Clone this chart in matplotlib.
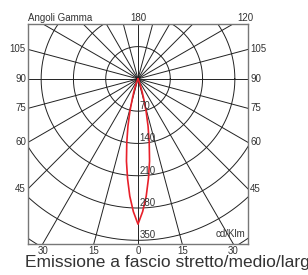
import numpy as np
import matplotlib
matplotlib.use("Agg")
import matplotlib.pyplot as plt

# polar photometric curve, cd/klm against gamma angle (deg); beam is symmetric
gamma_deg = [0, 2, 4, 6, 8, 10, 12, 14, 16, 18, 20, 22, 24]
intensity = [315, 288, 255, 217, 180, 140, 105, 73, 45, 28, 15, 6, 0]

ring_values = [70, 140, 210, 280, 350, 420, 490]
ring_labels = ["70", "140", "210", "280", "350"]
side_angles = [105, 90, 75, 60, 45]
bottom_angles = [-30, -15, 0, 15, 30]
top_labels = ["180", "120"]

XMAX, YTOP, YBOT = 238, 119, -358
FONT = ["Liberation Sans", "DejaVu Sans"]
TXT = "#333333"

fig = plt.figure(figsize=(3.08, 2.75), dpi=100)
ax = fig.add_axes([28 / 308, 31 / 275, 220 / 308, 220 / 275])
ax.set_xlim(-XMAX, XMAX)
ax.set_ylim(YBOT, YTOP)
ax.set_aspect("equal", adjustable="box")
ax.set_xticks([])
ax.set_yticks([])
for sp in ax.spines.values():
    sp.set_color("#777777")
    sp.set_linewidth(1.0)

# grid: rings and spokes every 15 deg
t = np.linspace(0, 2 * np.pi, 400)
for r in ring_values:
    ax.plot(r * np.cos(t), r * np.sin(t), color="#222222", lw=0.7, zorder=1)
for g in range(0, 180, 15):
    a = np.radians(g)
    L = 600
    ax.plot([-L * np.sin(a), L * np.sin(a)], [L * np.cos(a), -L * np.cos(a)],
            color="#222222", lw=0.7, zorder=1)

# intensity curve
g_all = np.radians(np.r_[-np.array(gamma_deg[::-1]), gamma_deg[1:]])
i_all = np.r_[intensity[::-1], intensity[1:]]
ax.plot(i_all * np.sin(g_all), -i_all * np.cos(g_all), color="#e8202a", lw=1.2, zorder=3)

# ring labels along the 0 deg axis
for r, lab in zip(ring_values, ring_labels):
    ax.text(3, -r, lab, ha="left", va="bottom", fontsize=7, color=TXT,
            family=FONT, zorder=4)

# side gamma labels
for g in side_angles:
    a = np.radians(g)
    y = -XMAX * np.cos(a) / np.sin(a)
    ax.text(-XMAX - 5, y, str(g), ha="right", va="center", fontsize=7, color=TXT,
            family=FONT, clip_on=False)
    ax.text(XMAX + 5, y, str(g), ha="left", va="center", fontsize=7, color=TXT,
            family=FONT, clip_on=False)

# bottom gamma labels
for g in bottom_angles:
    x = -YBOT * np.tan(np.radians(g))
    ax.text(x, YBOT - 4, str(abs(g)), ha="center", va="top", fontsize=7, color=TXT,
            family=FONT, clip_on=False)

# top labels
ax.text(0, YTOP + 3, top_labels[0], ha="center", va="bottom", fontsize=7, color=TXT,
        family=FONT, clip_on=False)
ax.text(XMAX - 6, YTOP + 3, top_labels[1], ha="center", va="bottom", fontsize=7,
        color=TXT, family=FONT, clip_on=False)
ax.text(-XMAX, YTOP + 3, "Angoli Gamma", ha="left", va="bottom", fontsize=7,
        color=TXT, family=FONT, clip_on=False)
ax.text(XMAX - 6, YBOT + 10, "cd/Klm", ha="right", va="bottom", fontsize=7,
        color=TXT, family=FONT, zorder=4)

fig.text(25 / 308, 1 - 262 / 275, "Emissione a fascio stretto/medio/largo",
         ha="left", va="center", fontsize=12.5, color=TXT,
         family=["Liberation Sans Narrow", "Liberation Sans"])

fig.savefig("out.png", dpi=100)
